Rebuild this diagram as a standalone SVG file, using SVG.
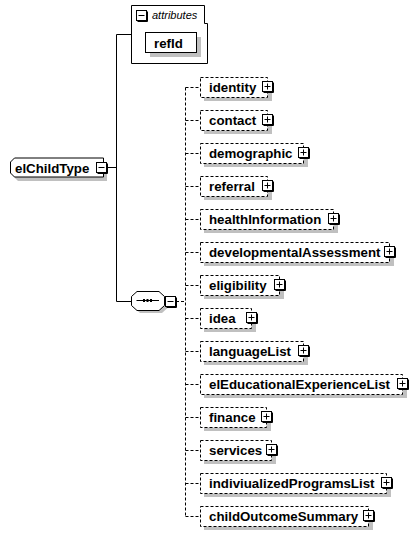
<svg xmlns="http://www.w3.org/2000/svg" width="417" height="536" viewBox="0 0 417 536">
<defs>
<style>
.bg{fill:#ffffff}
.sh{fill:#c0c0c0}
.box{fill:#ffffff;stroke:#000;stroke-width:1}
.dbox{fill:#ffffff;stroke:#000;stroke-width:1;stroke-dasharray:3 2}
.ln{stroke:#000;stroke-width:1;fill:none}
.dl{stroke:#000;stroke-width:1;fill:none;stroke-dasharray:3 2}
.t{font-family:"Liberation Sans",Arial,sans-serif;font-weight:bold;font-size:13.3px;fill:#000}
.it{font-family:"Liberation Sans",Arial,sans-serif;font-style:italic;font-size:11px;fill:#000}
</style>
<g id="plus">
<rect x="0.5" y="0.5" width="10" height="10" fill="#fff" stroke="#000"/>
<path d="M11.5 1.5V11.5H1.5" fill="none" stroke="#000"/>
<path d="M2.5 5.5H8.5M5.5 2.5V8.5" stroke="#000" fill="none"/>
</g>
<g id="minus">
<rect x="0.5" y="0.5" width="10" height="10" fill="#fff" stroke="#000"/>
<path d="M11.5 1.5V11.5H1.5" fill="none" stroke="#000"/>
<path d="M2.5 5.5H8.5" stroke="#000" fill="none"/>
</g>
</defs>
<rect class="bg" x="0" y="0" width="417" height="536"/>

<g id="connectors">
<path class="ln" d="M107 167.5H116.5M116.5 34.5V301.5M116.5 34.5H131.5M116.5 301.5H131.5"/>
<path class="dl" d="M176 301.5H185.5M185.5 87.5V516.5"/>
<path class="dl" d="M185.5 87.5H200M185.5 120.5H200M185.5 153.5H200M185.5 186.5H200M185.5 219.5H200M185.5 252.5H200M185.5 285.5H200M185.5 318.5H200M185.5 351.5H200M185.5 384.5H200M185.5 417.5H200M185.5 450.5H200M185.5 483.5H200M185.5 516.5H200"/>
</g>

<g id="attributes">
<path class="box" d="M131.5 5.5H204.5V23.5H207.5V63.5H131.5Z"/>
<use href="#minus" x="136" y="10"/>
<text class="it" x="152" y="19">attributes</text>
</g>
<g id="refId">
<rect class="sh" x="150" y="37" width="51" height="20"/>
<rect class="box" x="145.5" y="32.5" width="51" height="20"/>
<text class="t" x="154" y="47.5">refId</text>
</g>

<g id="elChildType">
<path class="sh" d="M18 162H107V181H18L14 177V166Z"/>
<path class="box" d="M14.5 158H103.5V177H14.5L10.5 173V162Z"/>
<text class="t" x="15" y="172.5">elChildType</text>
<use href="#minus" x="96" y="162"/>
</g>

<g id="sequence">
<path class="sh" d="M140 294H162L167.5 299V308L162 313H140L134.5 308V299Z"/>
<path class="box" d="M137 291.5H159L164.5 296.5V305.5L159 310.5H137L131.5 305.5V296.5Z"/>
<path class="ln" d="M136.5 300.5H159"/>
<rect x="143" y="299" width="2" height="3" fill="#000"/>
<rect x="146.5" y="299" width="2" height="3" fill="#000"/>
<rect x="150" y="299" width="2" height="3" fill="#000"/>
<use href="#minus" x="165" y="296"/>
</g>

<g id="identity">
<rect class="sh" x="204" y="81" width="68" height="20"/>
<rect class="dbox" x="200.5" y="77.5" width="67" height="20"/>
<text class="t" x="209" y="92">identity</text>
<use href="#plus" x="262" y="81"/>
</g>
<g id="contact">
<rect class="sh" x="204" y="114" width="68" height="20"/>
<rect class="dbox" x="200.5" y="110.5" width="67" height="20"/>
<text class="t" x="209" y="125">contact</text>
<use href="#plus" x="262" y="114"/>
</g>
<g id="demographic">
<rect class="sh" x="204" y="147" width="104" height="20"/>
<rect class="dbox" x="200.5" y="143.5" width="103" height="20"/>
<text class="t" x="209" y="158">demographic</text>
<use href="#plus" x="298" y="147"/>
</g>
<g id="referral">
<rect class="sh" x="204" y="180" width="68" height="20"/>
<rect class="dbox" x="200.5" y="176.5" width="67" height="20"/>
<text class="t" x="209" y="191">referral</text>
<use href="#plus" x="262" y="180"/>
</g>
<g id="healthInformation">
<rect class="sh" x="204" y="213" width="134" height="20"/>
<rect class="dbox" x="200.5" y="209.5" width="133" height="20"/>
<text class="t" x="209" y="224">healthInformation</text>
<use href="#plus" x="328" y="213"/>
</g>
<g id="developmentalAssessment">
<rect class="sh" x="204" y="246" width="190" height="20"/>
<rect class="dbox" x="200.5" y="242.5" width="189" height="20"/>
<text class="t" x="209" y="257">developmentalAssessment</text>
<use href="#plus" x="384" y="246"/>
</g>
<g id="eligibility">
<rect class="sh" x="204" y="279" width="80" height="20"/>
<rect class="dbox" x="200.5" y="275.5" width="79" height="20"/>
<text class="t" x="209" y="290">eligibility</text>
<use href="#plus" x="274" y="279"/>
</g>
<g id="idea">
<rect class="sh" x="204" y="312" width="52" height="20"/>
<rect class="dbox" x="200.5" y="308.5" width="51" height="20"/>
<text class="t" x="209" y="323">idea</text>
<use href="#plus" x="246" y="312"/>
</g>
<g id="languageList">
<rect class="sh" x="204" y="345" width="104" height="20"/>
<rect class="dbox" x="200.5" y="341.5" width="103" height="20"/>
<text class="t" x="209" y="356">languageList</text>
<use href="#plus" x="298" y="345"/>
</g>
<g id="elEducationalExperienceList">
<rect class="sh" x="204" y="378" width="203" height="20"/>
<rect class="dbox" x="200.5" y="374.5" width="202" height="20"/>
<text class="t" x="209" y="389">elEducationalExperienceList</text>
<use href="#plus" x="397" y="378"/>
</g>
<g id="finance">
<rect class="sh" x="204" y="411" width="67" height="20"/>
<rect class="dbox" x="200.5" y="407.5" width="66" height="20"/>
<text class="t" x="209" y="422">finance</text>
<use href="#plus" x="261" y="411"/>
</g>
<g id="services">
<rect class="sh" x="204" y="444" width="72" height="20"/>
<rect class="dbox" x="200.5" y="440.5" width="71" height="20"/>
<text class="t" x="209" y="455">services</text>
<use href="#plus" x="266" y="444"/>
</g>
<g id="indiviualizedProgramsList">
<rect class="sh" x="204" y="477" width="187" height="20"/>
<rect class="dbox" x="200.5" y="473.5" width="186" height="20"/>
<text class="t" x="209" y="488">indiviualizedProgramsList</text>
<use href="#plus" x="381" y="477"/>
</g>
<g id="childOutcomeSummary">
<rect class="sh" x="204" y="510" width="169" height="20"/>
<rect class="dbox" x="200.5" y="506.5" width="168" height="20"/>
<text class="t" x="209" y="521">childOutcomeSummary</text>
<use href="#plus" x="363" y="510"/>
</g>
</svg>
